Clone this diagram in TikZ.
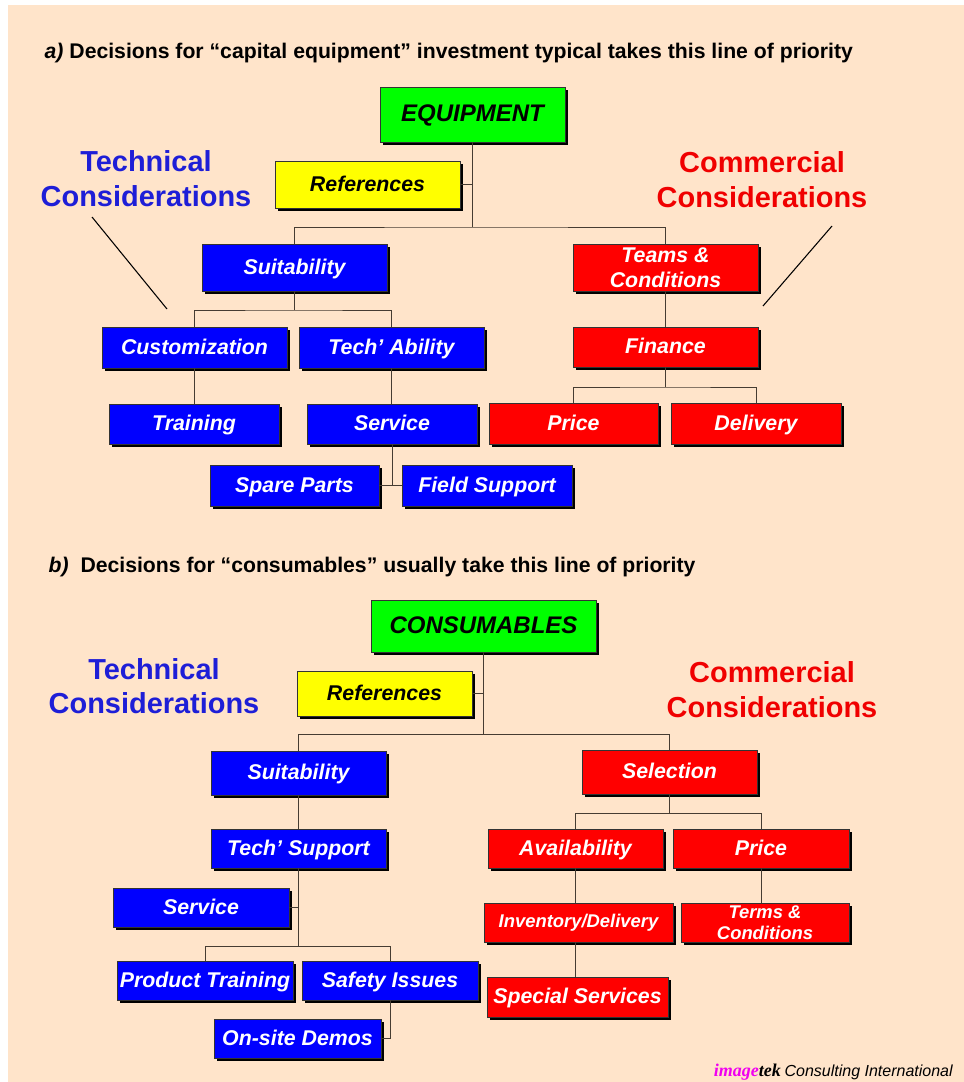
\documentclass[tikz,border=0pt]{standalone}
\usepackage{fontspec}
\setmainfont{Liberation Sans}
\newfontfamily\logoserif{Liberation Serif}
\usetikzlibrary{shadows}
\definecolor{bg}{RGB}{255,228,202}
\definecolor{bxgreen}{RGB}{0,255,0}
\definecolor{bxyellow}{RGB}{255,255,0}
\definecolor{bxblue}{RGB}{0,0,255}
\definecolor{bxred}{RGB}{255,0,0}
\definecolor{techblue}{RGB}{30,30,215}
\definecolor{commred}{RGB}{240,0,0}
\definecolor{connc}{RGB}{70,60,50}
\definecolor{logomag}{RGB}{240,0,240}
\begin{document}
\begin{tikzpicture}[x=0.75pt,y=-0.75pt,
  sz/.style 2 args={minimum width=#1*0.75pt, minimum height=#2*0.75pt},
  box/.style={draw=black!80, line width=0.5pt, inner sep=0pt, align=center,
    font=\bfseries\itshape\fontsize{16}{18.5}\selectfont, text=white,
    drop shadow={shadow xshift=2.2pt, shadow yshift=-2.2pt, fill=black, opacity=1}},
  one/.style={text height=12.5pt, text depth=2.3pt},
  bluebox/.style={box, one, fill=bxblue},
  redbox/.style={box, one, fill=bxred},
  redbox2/.style={box, fill=bxred},
  yellowbox/.style={box, one, fill=bxyellow, text=black},
  greenbox/.style={box, fill=bxgreen, text=black, font=\bfseries\itshape\fontsize{18}{21}\selectfont,
    text height=13.75pt, text depth=2.95pt},
  smallred/.style={box, fill=bxred, font=\bfseries\itshape\fontsize{13.8}{15.5}\selectfont,
    text height=10.3pt, text depth=2.5pt},
  conn/.style={draw=connc, line width=0.6pt},
  consid/.style={align=center, font=\bfseries\fontsize{21.7}{26}\selectfont},
  title/.style={anchor=base west, font=\bfseries\fontsize{15.9}{18}\selectfont},
]
\useasboundingbox (0,0) rectangle (964,1082);
\fill[bg] (8,5) rectangle (964,1082);

% ---------- section a ----------
\node[title] (ta) at (40,58) {\textit{a)} Decisions for “capital equipment” investment typical takes this line of priority};

\node[greenbox, sz={185}{55}] (equip) at (472.5,114.5) {EQUIPMENT};
\node[yellowbox, sz={185}{47}] (refs) at (367.5,184.5) {References};
\node[bluebox, sz={185}{47}] (suit) at (294.5,267.5) {Suitability};
\node[bluebox, sz={185}{41}] (cust) at (194.5,347.5) {Customization};
\node[bluebox, sz={185}{41}] (tech) at (391.5,347.5) {Tech’ Ability};
\node[bluebox, sz={170}{40}] (train) at (194,424) {Training};
\node[bluebox, sz={170}{40}] (serv) at (392,424) {Service};
\node[bluebox, sz={169}{41}] (spare) at (294.5,485.5) {Spare Parts};
\node[bluebox, sz={170}{41}] (field) at (487,485.5) {Field Support};
\node[redbox2, sz={185}{47}, font=\bfseries\itshape\fontsize{16}{18.7}\selectfont] (teams) at (665.5,267.5) {Teams \&\\Conditions};
\node[redbox, sz={185}{40}] (fin) at (665.5,347) {Finance};
\node[redbox, sz={169}{41}] (price) at (573.5,423.5) {Price};
\node[redbox, sz={170}{41}] (deliv) at (756,423.5) {Delivery};

\node[consid, text=techblue] (techa) at (146,178.5) {Technical\\Considerations};
\node[consid, text=commred] (comma) at (762,179.5) {Commercial\\Considerations};

\coordinate (a1) at (472.5,227);
\coordinate (a2) at (294.5,310);
\coordinate (a3) at (392,485.5);
\coordinate (a4) at (665.5,387);
\draw[conn] (equip.south) -- (a1);
\draw[conn] (refs.east) -- (refs.east -| a1);
\draw[conn] (suit.north) |- (a1) -| (teams.north);
\draw[conn] (suit.south) -- (a2);
\draw[conn] (cust.north) |- (a2) -| (tech.north);
\draw[conn] (cust.south) -- (cust.south |- train.north);
\draw[conn] (tech.south) -- (tech.south |- serv.north);
\draw[conn] (serv.south) -- (a3);
\draw[conn] (spare.east) -- (field.west);
\draw[conn] (teams.south) -- (fin.north);
\draw[conn] (fin.south) -- (a4);
\draw[conn] (price.north) |- (a4) -| (deliv.north);

\coordinate (la1) at (92,217);
\coordinate (la2) at (167,309);
\coordinate (ra1) at (832,226);
\coordinate (ra2) at (763,306);
\draw[line width=0.8pt] (la1) -- (la2);
\draw[line width=0.8pt] (ra1) -- (ra2);

% ---------- section b ----------
\node[title] (tb) at (44,572) {\textit{b)}\ \ Decisions for “consumables” usually take this line of priority};

\node[greenbox, sz={225}{52}] (cons) at (483.5,626) {CONSUMABLES};
\node[yellowbox, sz={175}{45}] (refs2) at (384.5,693.5) {References};
\node[bluebox, sz={175}{44}] (suit2) at (298.5,773) {Suitability};
\node[bluebox, sz={175}{39}] (tsup) at (298.5,848.5) {Tech’ Support};
\node[bluebox, sz={176}{39}] (serv2) at (201,907.5) {Service};
\node[bluebox, sz={176}{39}] (ptrain) at (205,980.5) {Product Training};
\node[bluebox, sz={176}{39}] (safety) at (390,980.5) {Safety Issues};
\node[bluebox, sz={167}{39}] (demos) at (297.5,1038.5) {On-site Demos};
\node[redbox, sz={175}{44}] (sel) at (669.5,772) {Selection};
\node[redbox, sz={175}{39}] (avail) at (575.5,848.5) {Availability};
\node[redbox, sz={176}{39}] (price2) at (761,848.5) {Price};
\node[smallred, sz={189}{39}] (inv) at (578.5,922.5) {Inventory/Delivery};
\node[redbox2, sz={168}{39}, font=\bfseries\itshape\fontsize{13.8}{15.8}\selectfont] (terms) at (765,922.5) {Terms \&\\Conditions};
\node[redbox, sz={181}{40}] (spec) at (577.5,997) {Special Services};

\node[consid, text=techblue] (techb) at (154,686) {Technical\\Considerations};
\node[consid, text=commred] (commb) at (772,689.5) {Commercial\\Considerations};

\coordinate (b1) at (483.5,734);
\coordinate (b2) at (669.5,813);
\coordinate (b3) at (298.5,946);
\draw[conn] (cons.south) -- (b1);
\draw[conn] (refs2.east) -- (refs2.east -| b1);
\draw[conn] (suit2.north) |- (b1) -| (sel.north);
\draw[conn] (sel.south) -- (b2);
\draw[conn] (avail.north) |- (b2) -| (price2.north);
\draw[conn] (avail.south) -- (avail.south |- inv.north);
\draw[conn] (inv.south -| avail.south) -- (spec.north -| avail.south);
\draw[conn] (price2.south) -- (price2.south |- terms.north);
\draw[conn] (suit2.south) -- (tsup.north);
\draw[conn] (tsup.south) -- (b3);
\draw[conn] (serv2.east) -- (serv2.east -| b3);
\draw[conn] (ptrain.north) |- (b3) -| (safety.north);
\draw[conn] (safety.south) |- (demos.east);

% ---------- logo ----------
\node[anchor=base east, inner sep=0pt] (logo) at (953,1076)
  {{\logoserif\bfseries\itshape\fontsize{13.5}{15}\selectfont\textcolor{logomag}{image}tek}\ {\itshape\fontsize{12}{14}\selectfont Consulting International}};
\end{tikzpicture}
\end{document}
